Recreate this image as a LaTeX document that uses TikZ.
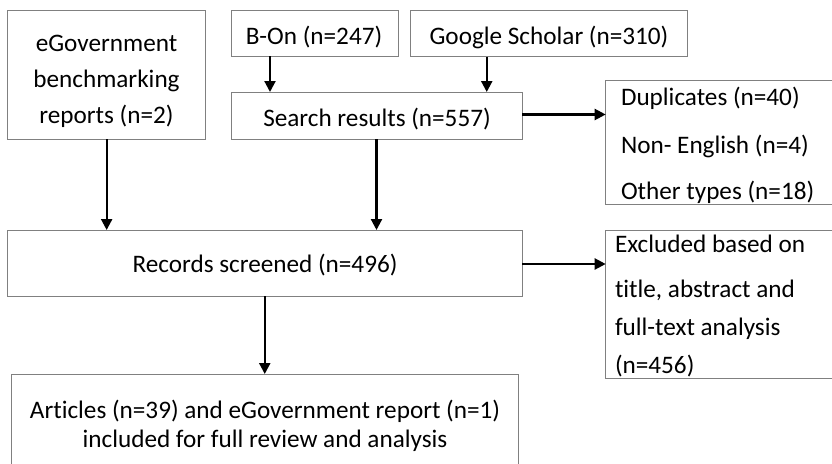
\documentclass[tikz,border=0pt]{standalone}
\usepackage{fontspec}
\setmainfont{Carlito}[Ligatures={NoCommon}]
\usetikzlibrary{arrows.meta}
\tikzset{
  box/.style={draw=black!50, line width=0.9pt, inner sep=0pt, outer sep=0pt, fill=none},
  lbl/.style={inner sep=0pt, outer sep=0pt, font=\fontsize{25.2}{28}\selectfont, text=black},
  arr/.style={draw=black, line width=2.2pt, -{Triangle[length=11pt,width=11pt]}},
}
\begin{document}
\begin{tikzpicture}[x=1pt, y=-1pt]
  \useasboundingbox (0,0) rectangle (832,463);
  \fill[white] (0,0) rectangle (832,463);
  \clip (0,0) rectangle (832,463);

  % boxes
  \node[box, minimum width=198.5pt, minimum height=129pt] (egov) at (106.25,74.5) {};
  \node[box, minimum width=167pt, minimum height=46pt] (bon) at (314.5,33) {};
  \node[box, minimum width=277.5pt, minimum height=46.5pt] (gs) at (548.75,33.25) {};
  \node[box, minimum width=291pt, minimum height=47pt] (search) at (376.5,115.5) {};
  \node[box, minimum width=254pt, minimum height=124pt] (dup) at (732.7,142) {};
  \node[box, minimum width=514.5pt, minimum height=66pt] (rec) at (264.75,263) {};
  \node[box, minimum width=254pt, minimum height=148pt] (excl) at (732.7,304) {};
  \node[box, minimum width=506.3pt, minimum height=116pt] (art) at (264.85,432) {};

  % texts
  \node[lbl, anchor=base] (egov1) at (106.5,51) {eGovernment};
  \node[lbl, anchor=base] (egov2) at (106.5,87) {benchmarking};
  \node[lbl, anchor=base] (egov3) at (106.5,123) {reports (n=2)};
  \node[lbl, anchor=base] (bont) at (314,44) {B-On (n=247)};
  \node[lbl, anchor=base] (gst) at (549,44) {Google Scholar (n=310)};
  \node[lbl, anchor=base] (searcht) at (377,126) {Search results (n=557)};
  \node[lbl, anchor=base west] (dup1) at (621,105) {Duplicates (n=40)};
  \node[lbl, anchor=base west] (dup2) at (621,153) {Non- English (n=4)};
  \node[lbl, anchor=base west] (dup3) at (621,199) {Other types (n=18)};
  \node[lbl, anchor=base] (rect) at (265,272.5) {Records screened (n=496)};
  \node[lbl, anchor=base west] (excl1) at (615,252) {Excluded based on};
  \node[lbl, anchor=base west] (excl2) at (615,297) {title, abstract and};
  \node[lbl, anchor=base west] (excl3) at (615,335) {full-text analysis};
  \node[lbl, anchor=base west] (excl4) at (615,373) {(n=456)};
  \node[lbl, anchor=base] (art1) at (265,418) {Articles (n=39) and eGovernment report (n=1)};
  \node[lbl, anchor=base] (art2) at (265,447) {included for full review and analysis};

  % connectors
  \draw[arr] ([xshift=0.4pt]egov.south) -- ([xshift=0.4pt]egov.south |- rec.north);
  \draw[arr] ([xshift=-44.5pt]bon.south) -- ([xshift=-44.5pt]bon.south |- search.north);
  \draw[arr] ([xshift=-62pt]gs.south) -- ([xshift=-62pt]gs.south |- search.north);
  \draw[arr] (search.south) -- (search.south |- rec.north);
  \draw[arr] ([yshift=1pt]search.east) -- ([yshift=1pt]search.east -| dup.west);
  \draw[arr] ([yshift=-1pt]rec.east) -- ([yshift=-1pt]rec.east -| excl.west);
  \draw[arr] (rec.south) -- (rec.south |- art.north);
\end{tikzpicture}
\end{document}
